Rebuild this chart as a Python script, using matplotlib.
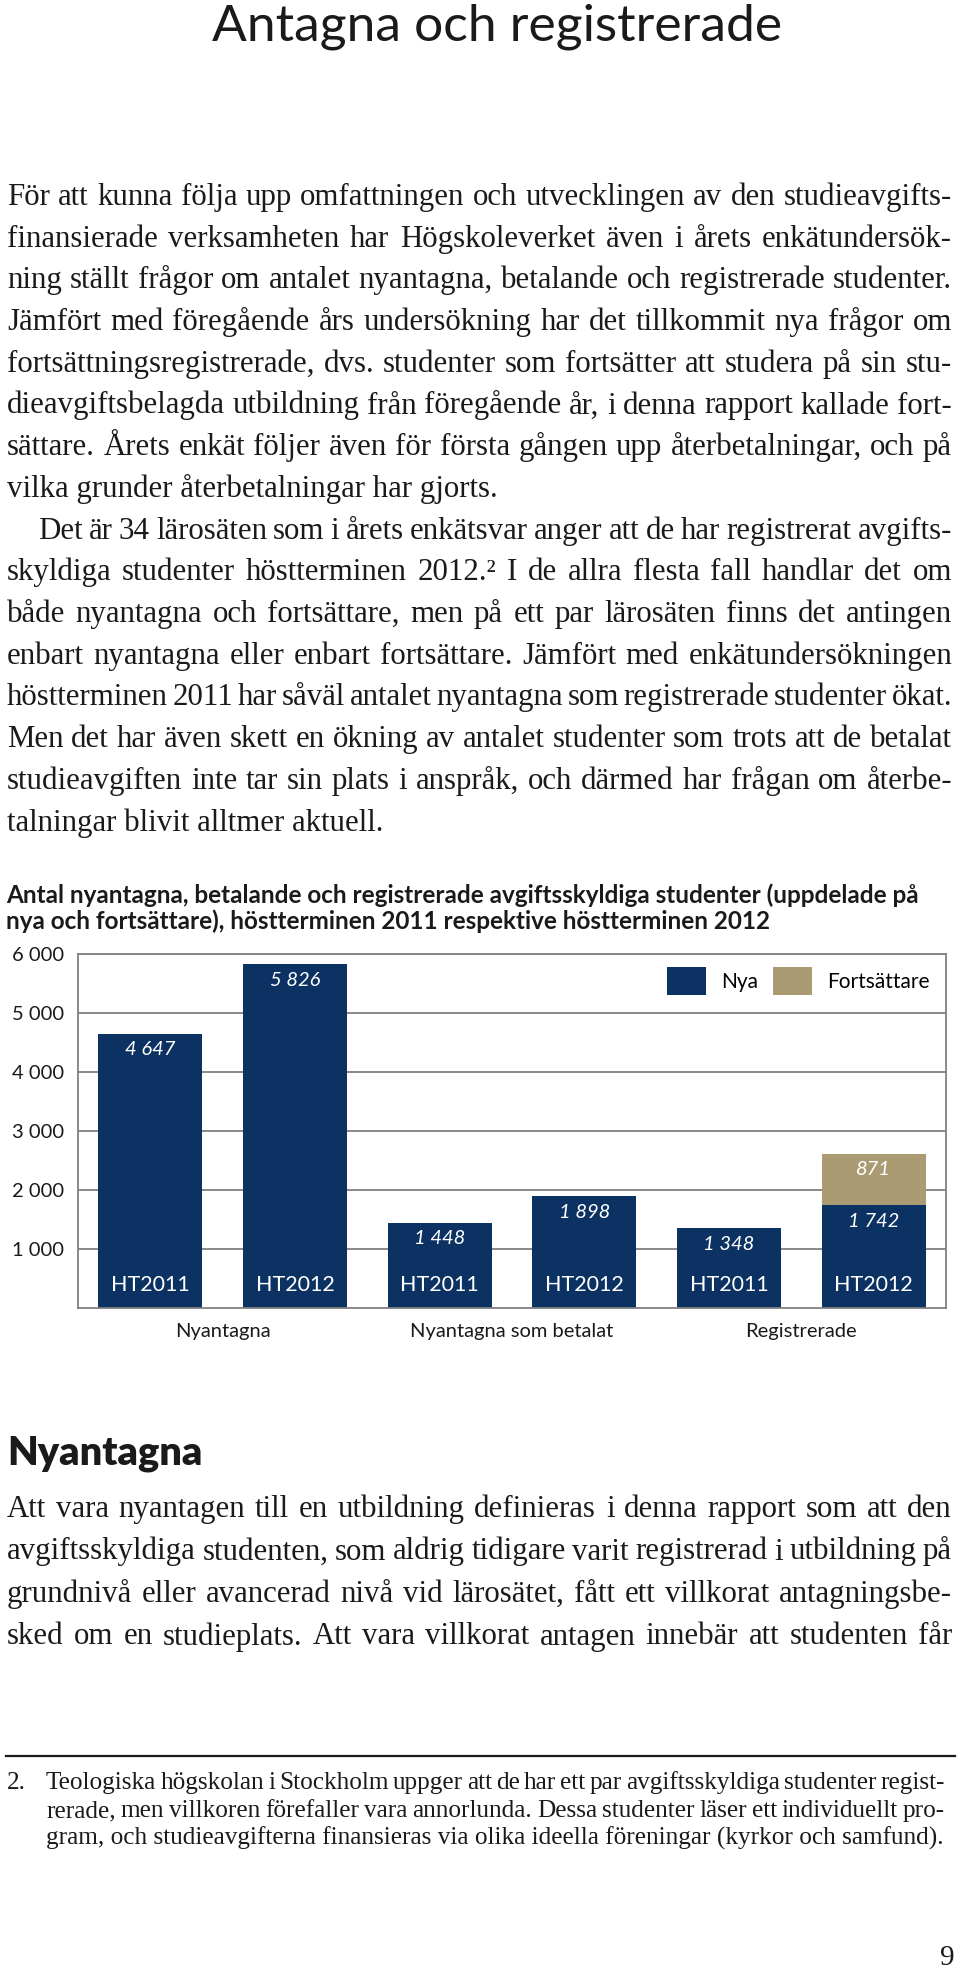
import matplotlib
matplotlib.use("Agg")
import matplotlib.pyplot as plt
from matplotlib.font_manager import FontProperties
from matplotlib.patches import Patch

# --- chart data ---
groups = ["Nyantagna", "Nyantagna som betalat", "Registrerade"]
terms = ["HT2011", "HT2012", "HT2011", "HT2012", "HT2011", "HT2012"]
nya = [4647, 5826, 1448, 1898, 1348, 1742]
forts = [0, 0, 0, 0, 0, 871]
yticks = [1000, 2000, 3000, 4000, 5000, 6000]

# --- page text ---
page_title = "Antagna och registrerade"
chart_title = ["Antal nyantagna, betalande och registrerade avgiftsskyldiga studenter (uppdelade på",
               "nya och fortsättare), höstterminen 2011 respektive höstterminen 2012"]
para1 = ["För att kunna följa upp omfattningen och utvecklingen av den studieavgifts-",
         "finansierade verksamheten har Högskoleverket även i årets enkätundersök-",
         "ning ställt frågor om antalet nyantagna, betalande och registrerade studenter.",
         "Jämfört med föregående års undersökning har det tillkommit nya frågor om",
         "fortsättningsregistrerade, dvs. studenter som fortsätter att studera på sin stu-",
         "dieavgiftsbelagda utbildning från föregående år, i denna rapport kallade fort-",
         "sättare. Årets enkät följer även för första gången upp återbetalningar, och på",
         "vilka grunder återbetalningar har gjorts."]
para2 = ["Det är 34 lärosäten som i årets enkätsvar anger att de har registrerat avgifts-",
         "skyldiga studenter höstterminen 2012.² I de allra flesta fall handlar det om",
         "både nyantagna och fortsättare, men på ett par lärosäten finns det antingen",
         "enbart nyantagna eller enbart fortsättare. Jämfört med enkätundersökningen",
         "höstterminen 2011 har såväl antalet nyantagna som registrerade studenter ökat.",
         "Men det har även skett en ökning av antalet studenter som trots att de betalat",
         "studieavgiften inte tar sin plats i anspråk, och därmed har frågan om återbe-",
         "talningar blivit alltmer aktuell."]
heading = "Nyantagna"
para3 = ["Att vara nyantagen till en utbildning definieras i denna rapport som att den",
         "avgiftsskyldiga studenten, som aldrig tidigare varit registrerad i utbildning på",
         "grundnivå eller avancerad nivå vid lärosätet, fått ett villkorat antagningsbe-",
         "sked om en studieplats. Att vara villkorat antagen innebär att studenten får"]
footnote = ["Teologiska högskolan i Stockholm uppger att de har ett par avgiftsskyldiga studenter regist-",
            "rerade, men villkoren förefaller vara annorlunda. Dessa studenter läser ett individuellt pro-",
            "gram, och studieavgifterna finansieras via olika ideella föreningar (kyrkor och samfund)."]

navy = "#0b3262"
tan = "#ab9b72"
gray = "#808080"
ink = "#1a1a1a"
serif = "Liberation Serif"
sans = "Lato"

W, H = 960, 1968
fig = plt.figure(figsize=(W / 100, H / 100), dpi=100)
renderer = fig.canvas.get_renderer()


def width(s, prop):
    return renderer.get_text_width_height_descent(s, prop, ismath=False)[0]


def fit_size(s, target, family, weight="normal", ref=20):
    return ref * target / width(s, FontProperties(family=family, weight=weight, size=ref))


def fit_lines(lines, target, family, squeeze=0.7, ref=20):
    # largest size where every justified line still fits with tight spaces
    prop = FontProperties(family=family, size=ref)
    sp = width("a a", prop) - width("aa", prop)
    best = 100
    for s in lines:
        words = s.split(" ")
        w = sum(width(x, prop) for x in words) + squeeze * sp * (len(words) - 1)
        best = min(best, ref * target / w)
    return best


def put(x, y, s, **kw):
    fig.text(x / W, 1 - y / H, s, va="baseline", **kw)


def line(s, x0, x1, y, size, family=serif, justify=True):
    if not justify:
        put(x0, y, s, fontsize=size, family=family, color=ink)
        return
    prop = FontProperties(family=family, size=size)
    words = s.split(" ")
    ws = [width(x, prop) for x in words]
    gap = (x1 - x0 - sum(ws)) / (len(words) - 1)
    x = x0
    for word, wd in zip(words, ws):
        put(x, y, word, fontsize=size, family=family, color=ink)
        x += wd + gap


# page title
ts = fit_size(page_title, 571, sans)
put(212, 40, page_title, fontsize=ts, family=sans, color=ink)

# body paragraphs
L, R = 7, 952
body = fit_lines(para1[:-1] + para2[1:-1] + para3, R - L, serif, squeeze=0.6)
step = 41.7
for i, s in enumerate(para1):
    line(s, L, R, 205 + i * step, body, justify=i < len(para1) - 1)
for i, s in enumerate(para2):
    line(s, 38 if i == 0 else L, R, 205 + (i + 8) * step, body, justify=i < len(para2) - 1)

# chart title
cs = fit_size(chart_title[0], 910, sans, weight="bold")
put(6, 903, chart_title[0], fontsize=cs, family=sans, weight="bold", color=ink)
put(6, 929, chart_title[1], fontsize=cs, family=sans, weight="bold", color=ink)

# chart
ax = fig.add_axes([78 / W, 1 - 1308 / H, 868 / W, 354 / H])
x = list(range(len(nya)))
ax.bar(x, nya, width=0.717, color=navy, zorder=2)
ax.bar(x, forts, bottom=nya, width=0.717, color=tan, zorder=2)
ax.set_xlim(-0.5, 5.5)
ax.set_ylim(0, 6000)
ax.set_yticks(yticks)
ax.set_yticklabels([f"{v:,}".replace(",", " ") for v in yticks], family=sans, fontsize=14.5, color=ink)
ax.set_xticks([])
ax.tick_params(axis="y", length=0, pad=10)
ax.yaxis.grid(True, color=gray, lw=1.3, zorder=0)
ax.set_axisbelow(True)
for sp in ax.spines.values():
    sp.set_color(gray)
    sp.set_linewidth(1.3)

for i in x:
    ax.annotate(f"{nya[i]:,}".replace(",", " "), (i, nya[i]), xytext=(0, -16), textcoords="offset pixels",
                ha="center", va="center", color="white", style="italic", family=sans, fontsize=14.5, zorder=3)
    if forts[i]:
        ax.annotate(f"{forts[i]:,}".replace(",", " "), (i, nya[i] + forts[i]), xytext=(0, -16),
                    textcoords="offset pixels", ha="center", va="center", color="white", style="italic",
                    family=sans, fontsize=14.5, zorder=3)
    ax.annotate(terms[i], (i, 0), xytext=(0, 23), textcoords="offset pixels", ha="center", va="center",
                color="white", family=sans, fontsize=15.5, zorder=3)
for k, g in enumerate(groups):
    ax.annotate(g, (2 * k + 0.5, 0), xytext=(0, -24), textcoords="offset pixels", ha="center", va="center",
                color=ink, family=sans, fontsize=14.5, annotation_clip=False)

ax.legend(handles=[Patch(fc=navy), Patch(fc=tan)], labels=["Nya", "Fortsättare"], ncol=2,
          loc="upper right", bbox_to_anchor=(0.981, 0.963), frameon=False,
          prop=FontProperties(family=sans, size=15), handlelength=1.87, handleheight=1.68,
          handletextpad=0.72, columnspacing=0.72, borderpad=0, borderaxespad=0)

# section heading + paragraph
hs = fit_size(heading, 196, sans, weight="heavy")
put(7, 1465, heading, fontsize=hs, family=sans, weight="heavy", color=ink)
for i, s in enumerate(para3):
    line(s, L, R, 1517 + i * 42.5, body)

# footnote
fig.add_artist(plt.Line2D([6 / W, 955 / W], [1 - 1756 / H, 1 - 1756 / H], color=ink, lw=1.6))
fn = fit_lines(footnote[:-1], 945 - 46, serif, squeeze=0.65)
put(7, 1789, "2.", fontsize=fn, family=serif, color=ink)
for i, s in enumerate(footnote):
    line(s, 46, 945, 1789 + i * 28, fn, justify=i < len(footnote) - 1)

fig.text(955 / W, 1 - 1965 / H, "9", ha="right", va="baseline", fontsize=21, family=serif, color=ink)

fig.savefig("out.png", dpi=100)
